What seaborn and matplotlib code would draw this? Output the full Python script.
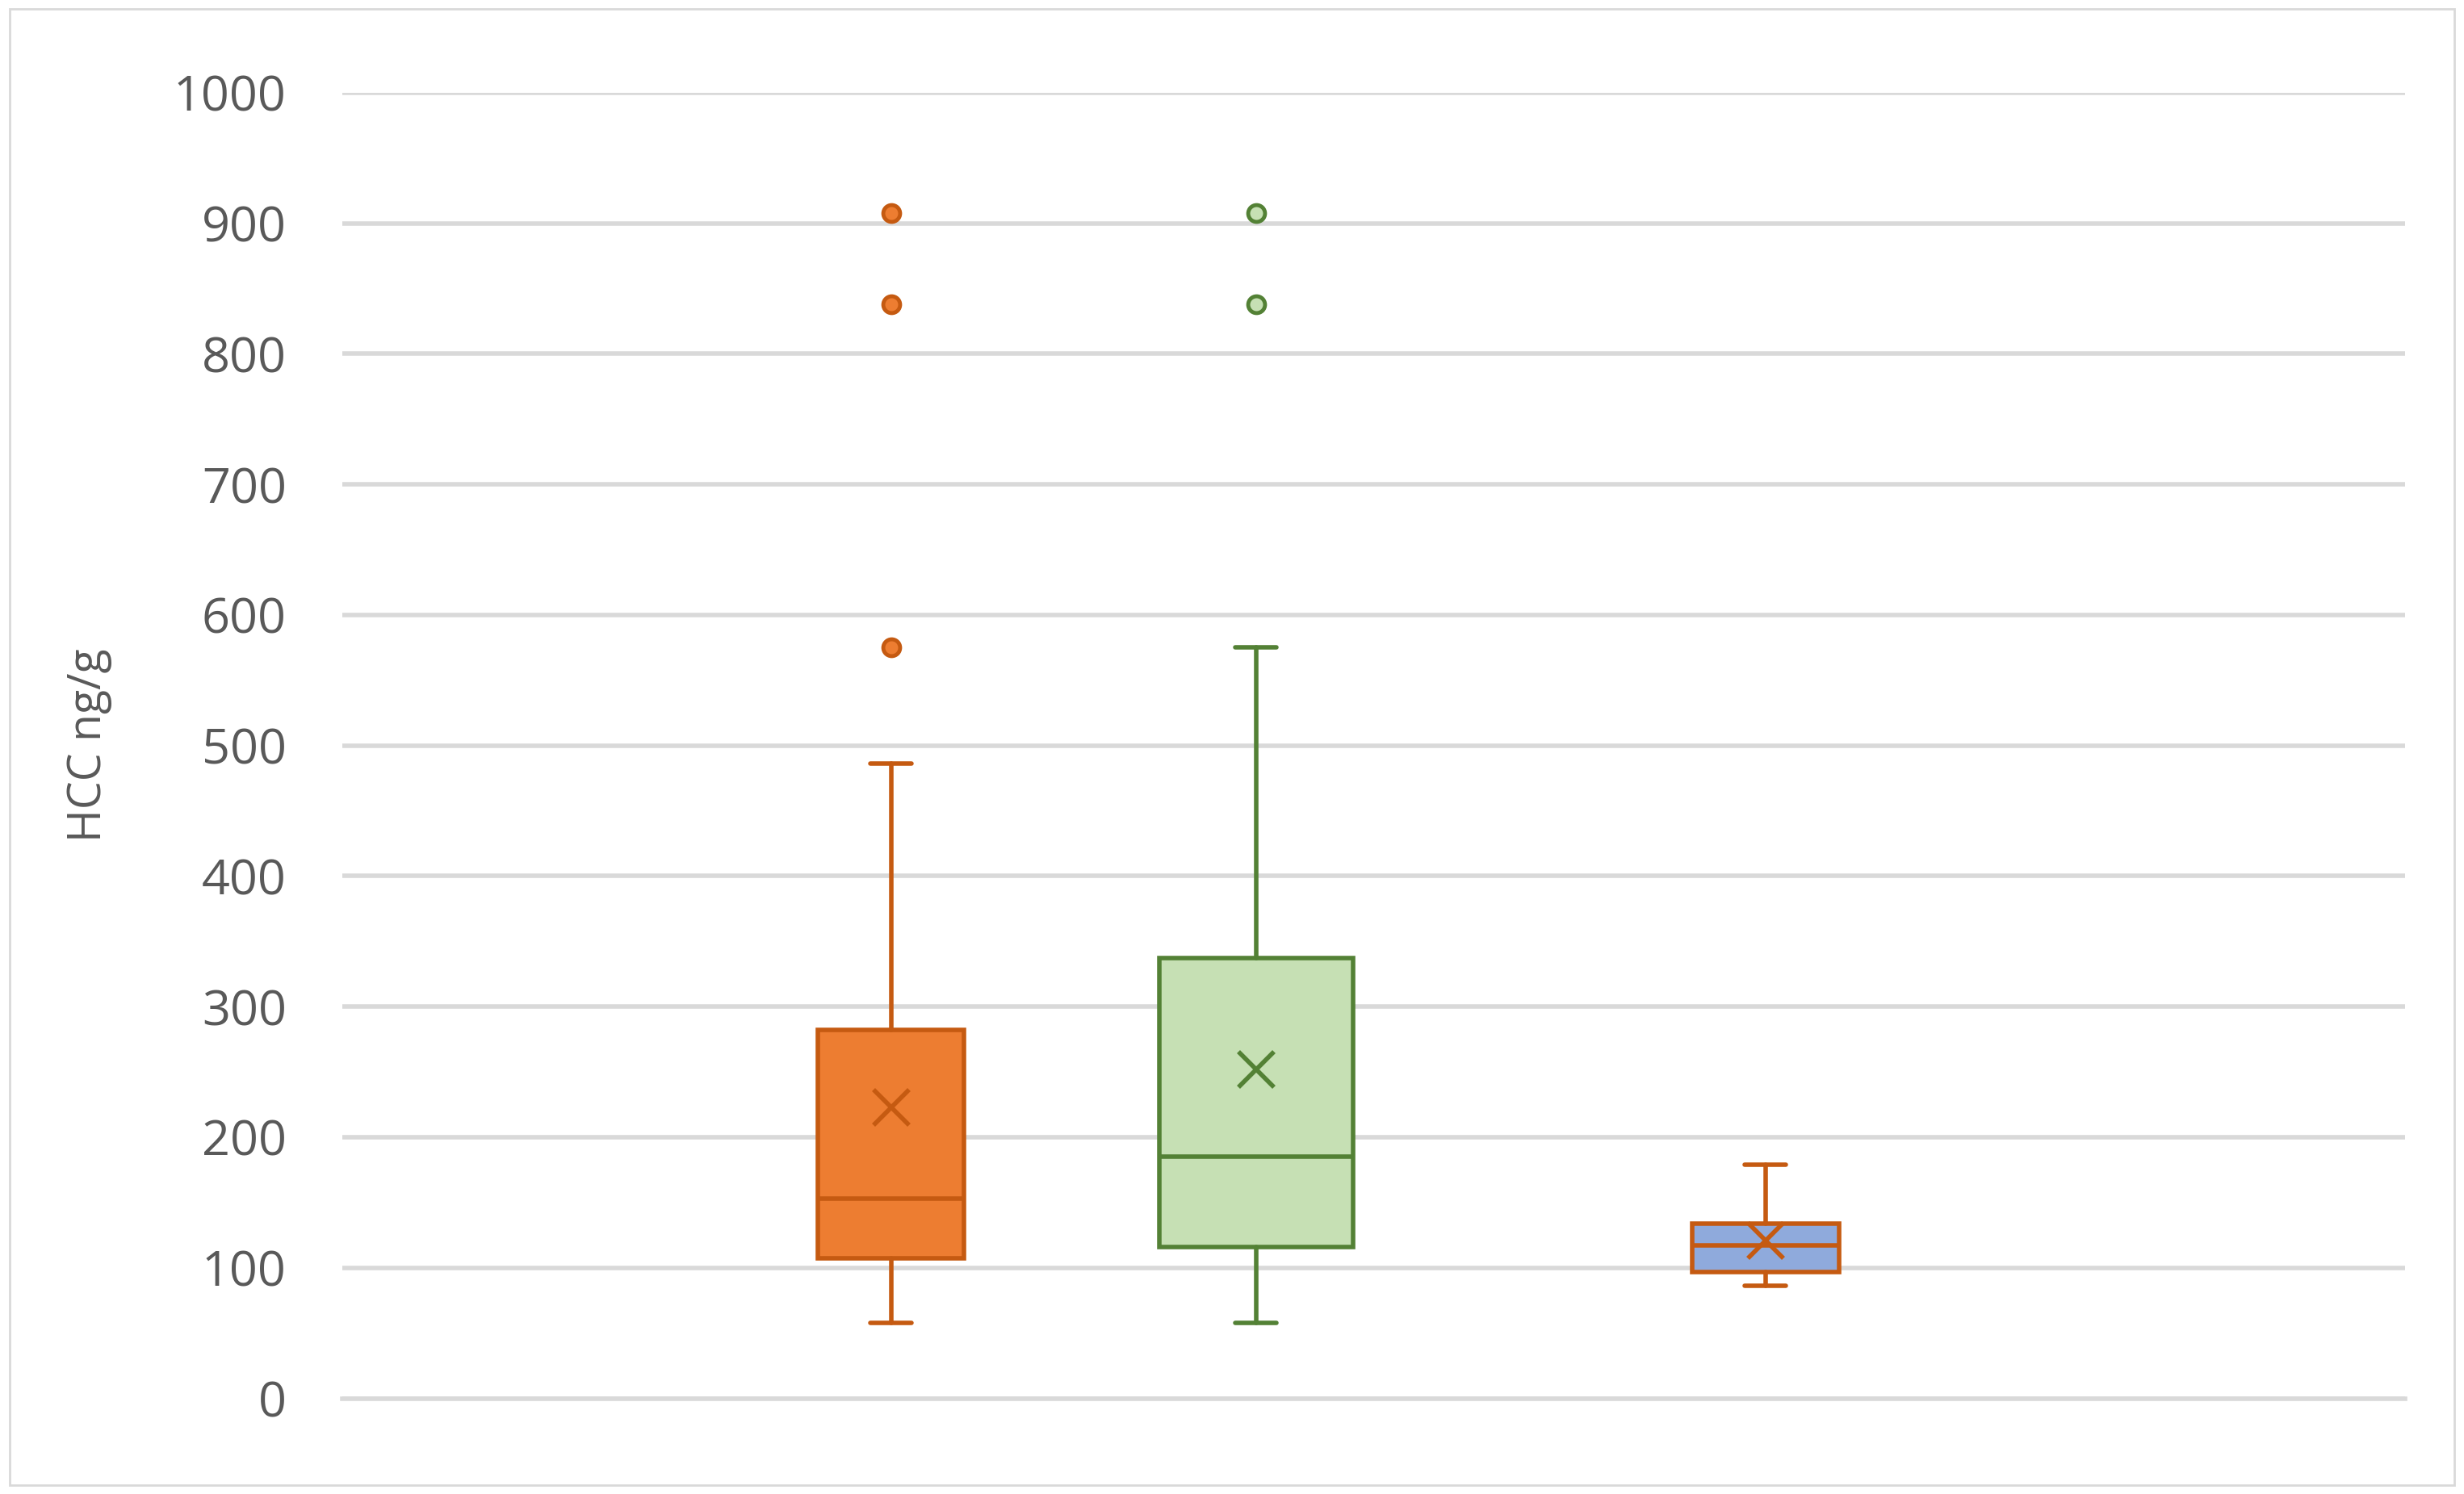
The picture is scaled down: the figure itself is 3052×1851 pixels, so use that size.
import matplotlib
matplotlib.use("Agg")
import matplotlib.pyplot as plt
import seaborn as sns
from matplotlib.patches import Rectangle

sns.set_theme(style="white")
plt.rcParams['font.family'] = ['Open Sans', 'DejaVu Sans']

groups = ["A", "B", "C"]
whislo = [58, 58, 86]
q1 = [107, 116, 97]
med = [153, 185, 117]
q3 = [282, 337, 134]
whishi = [486, 575, 179]
means = [223, 252, 121]
fliers = [[575, 838, 908], [838, 908], []]
positions = [0.266, 0.443, 0.690]
widths = [0.071, 0.094, 0.071]
face = ["#ED7D31", "#C6E0B4", "#8FAADC"]
edge = ["#C55A11", "#538135", "#C55A11"]
flier_face = ["#ED7D31", "#C6E0B4", "#8FAADC"]

fig = plt.figure(figsize=(30.52, 18.51), dpi=100)
ax = fig.add_axes([0.139, 0.064, 0.837, 0.874])
fig.patches.append(Rectangle((0.004, 0.006), 0.992, 0.988, transform=fig.transFigure,
                             fill=False, edgecolor="#D9D9D9", linewidth=2))

for i in range(len(groups)):
    st = [dict(whislo=whislo[i], q1=q1[i], med=med[i], q3=q3[i], whishi=whishi[i],
               mean=means[i], fliers=fliers[i], label=groups[i])]
    ax.bxp(st, positions=[positions[i]], widths=widths[i], patch_artist=True, showmeans=True,
           boxprops=dict(facecolor=face[i], edgecolor=edge[i], linewidth=4),
           medianprops=dict(color=edge[i], linewidth=4),
           whiskerprops=dict(color=edge[i], linewidth=4),
           capprops=dict(color=edge[i], linewidth=4),
           capwidths=0.02,
           meanprops=dict(marker="x", markeredgecolor=edge[i], markersize=32, markeredgewidth=4),
           flierprops=dict(marker="o", markerfacecolor=flier_face[i], markeredgecolor=edge[i],
                           markersize=15, markeredgewidth=3.5),
           manage_ticks=False)

ax.set_xlim(0, 1)
ax.set_ylim(0, 1000)
ax.set_yticks(range(0, 1001, 100))
ax.set_xticks([])
ax.yaxis.grid(True, color="#D9D9D9", linewidth=4)
ax.set_axisbelow(True)
for s in ["top", "right", "left"]:
    ax.spines[s].set_visible(False)
ax.spines["bottom"].set_color("#D9D9D9")
ax.spines["bottom"].set_linewidth(4)
ax.tick_params(axis="y", labelsize=44, labelcolor="#595959", length=0, pad=50)
ax.set_ylabel("HCC ng/g", fontsize=40, color="#595959", labelpad=55)
fig.savefig("out.png", dpi=100)
